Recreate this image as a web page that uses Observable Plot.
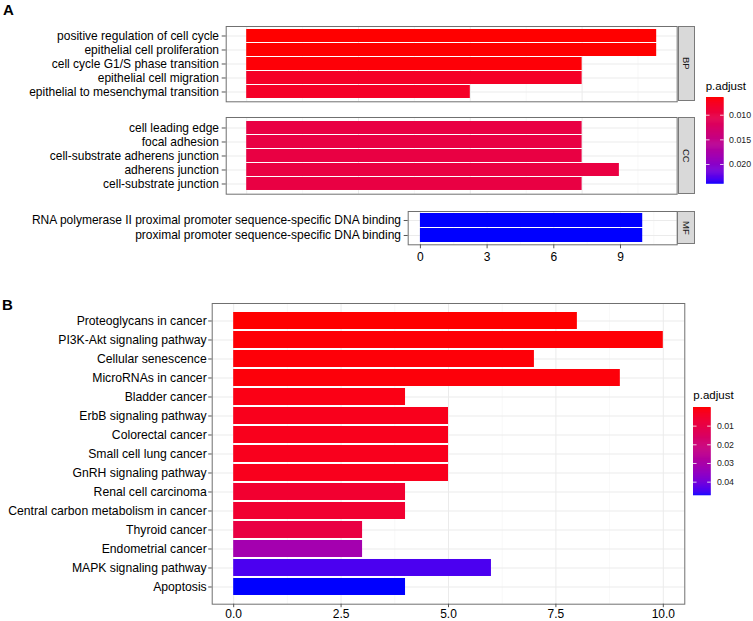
<!DOCTYPE html>
<html><head><meta charset="utf-8">
<script src="https://cdn.jsdelivr.net/npm/d3@7"></script>
<script src="https://cdn.jsdelivr.net/npm/@observablehq/plot@0.6"></script>
<style>
body{margin:0;background:#fff;}
#root{position:relative;width:753px;height:621px;overflow:hidden;font-family:"Liberation Sans",Arial,Helvetica,sans-serif;}
.abs{position:absolute;line-height:1;white-space:nowrap;}
.tag{font-weight:bold;font-size:15px;color:#000;}
.strip{position:absolute;background:#d9d9d9;border:1px solid #7a7a7a;box-sizing:border-box;display:flex;align-items:center;justify-content:center;}
.strip span{writing-mode:vertical-rl;font-size:9.5px;color:#1a1a1a;line-height:1;}
.ltitle{font-size:11.5px;color:#000;}
</style></head>
<body><div id="root"></div>
<script>
// ---------- Panel A data ----------
const bpTerms = ["positive regulation of cell cycle","epithelial cell proliferation","cell cycle G1/S phase transition","epithelial cell migration","epithelial to mesenchymal transition"];
const bpCounts = [11, 11, 9, 9, 6];
const bpPadj = [0.0064, 0.0064, 0.0066, 0.0080, 0.0080];

const ccTerms = ["cell leading edge","focal adhesion","cell-substrate adherens junction","adherens junction","cell-substrate junction"];
const ccCounts = [9, 9, 9, 10, 9];
const ccPadj = [0.0099, 0.0099, 0.0099, 0.0098, 0.0099];

const mfTerms = ["RNA polymerase II proximal promoter sequence-specific DNA binding","proximal promoter sequence-specific DNA binding"];
const mfCounts = [10, 10];
const mfPadj = [0.0240, 0.0240];

const aMajorTicks = [0, 3, 6, 9];
const aMinorTicks = [1.5, 4.5, 7.5, 10.5];
const aLegendTicks = [0.010, 0.015, 0.020];

// ---------- Panel B data ----------
const keggTerms = ["Proteoglycans in cancer","PI3K-Akt signaling pathway","Cellular senescence","MicroRNAs in cancer","Bladder cancer","ErbB signaling pathway","Colorectal cancer","Small cell lung cancer","GnRH signaling pathway","Renal cell carcinoma","Central carbon metabolism in cancer","Thyroid cancer","Endometrial cancer","MAPK signaling pathway","Apoptosis"];
const keggCounts = [8, 10, 7, 9, 4, 5, 5, 5, 5, 4, 4, 3, 3, 6, 4];
const keggPadj = [0.00002, 0.0004, 0.0006, 0.0008, 0.0018, 0.0026, 0.0027, 0.0028, 0.0028, 0.0058, 0.0060, 0.0093, 0.0315, 0.0445, 0.0473];

const bMajorTicks = [0, 2.5, 5, 7.5, 10];
const bMinorTicks = [1.25, 3.75, 6.25, 8.75];
const bLegendTicks = [0.01, 0.02, 0.03, 0.04];

// ---------- drawing ----------
const FONT = '"Liberation Sans", Arial, Helvetica, sans-serif';
const root = document.getElementById("root");
const aDomain = d3.extent([...bpPadj, ...ccPadj, ...mfPadj]);
const bDomain = d3.extent(keggPadj);

function colorOpts(domain){
  return {type:"linear", domain, range:["red","blue"], interpolate: d3.interpolateLab};
}

function panel(o){
  const data = o.terms.map((t,i)=>({term:t, count:o.counts[i], p:o.padj[i]}));
  const mt = 4, mb = o.xAxis ? 26 : 4;
  const marks = [
    Plot.gridX({ticks:o.minor, stroke:"#f3f3f3", strokeOpacity:1, strokeWidth:0.6}),
    Plot.gridX({ticks:o.major, stroke:"#ebebeb", strokeOpacity:1, strokeWidth:1}),
    Plot.gridY({stroke:"#ebebeb", strokeOpacity:1, strokeWidth:1}),
    Plot.barX(data, {x:"count", y:"term", fill:"p"}),
    Plot.frame({stroke:"#707070"}),
    Plot.axisY({tickSize:o.ts, tickPadding:o.tp, fontSize:o.fs, stroke:"#555", fill:"#000", label:null})
  ];
  if (o.xAxis) marks.push(Plot.axisX({ticks:o.major, tickFormat:o.fmt, tickSize:o.ts, tickPadding:o.tp, fontSize:12, stroke:"#555", fill:"#000", label:null}));
  const svg = Plot.plot({
    width: o.right + 3, height: (o.bottom - o.top) + mt + mb,
    marginLeft: o.left, marginRight: 3, marginTop: mt, marginBottom: mb,
    style: {fontFamily: FONT, fontSize:"12px", background:"transparent", overflow:"visible"},
    x: {domain:o.xDomain, axis: o.xAxis ? undefined : null},
    y: {domain:o.terms, paddingInner:0.1, paddingOuter:0.15},
    color: colorOpts(o.colorDomain),
    marks
  });
  svg.style.position = "absolute";
  svg.style.left = "0px";
  svg.style.top = (o.top - mt) + "px";
  root.append(svg);
}

function legend(o){
  const [lo, hi] = o.domain;
  const N = 90, step = (hi - lo) / N;
  const slices = d3.range(N).map(i => ({a: lo + step*i, b: Math.min(hi, lo + step*(i+1.6)), v: lo + step*(i+0.5)}));
  const svg = Plot.plot({
    width: o.w + 45, height: o.h, marginLeft:0, marginRight:45, marginTop:0, marginBottom:0,
    style: {fontFamily: FONT, background:"transparent", overflow:"visible"},
    x: {domain:[0,1], axis:null},
    y: {domain:[lo,hi], reverse:true, axis:null},
    color: colorOpts(o.domain),
    marks: [
      Plot.rect(slices, {x1:0, x2:1, y1:"a", y2:"b", fill:"v"}),
      Plot.ruleY(o.ticks, {x1:0, x2:0.2, stroke:"white", strokeWidth:0.8}),
      Plot.ruleY(o.ticks, {x1:0.8, x2:1, stroke:"white", strokeWidth:0.8}),
      Plot.text(o.ticks, {x:1, y:d=>d, text:d=>d3.format(o.fmt)(d), textAnchor:"start", dx:o.dx, fontSize:8.8, fill:"#222"})
    ]
  });
  svg.style.position = "absolute";
  svg.style.left = o.left + "px";
  svg.style.top = o.top + "px";
  root.append(svg);
  const t = document.createElement("div");
  t.className = "abs ltitle";
  t.textContent = "p.adjust";
  t.style.left = o.left + "px";
  t.style.top = o.titleTop + "px";
  root.append(t);
}

function strip(label, left, top, right, bottom){
  const d = document.createElement("div");
  d.className = "strip";
  d.style.left = left + "px"; d.style.top = top + "px";
  d.style.width = (right - left) + "px"; d.style.height = (bottom - top) + "px";
  const s = document.createElement("span"); s.textContent = label; d.append(s);
  root.append(d);
}

function tag(text, left, top){
  const d = document.createElement("div");
  d.className = "abs tag"; d.textContent = text;
  d.style.left = left + "px"; d.style.top = top + "px";
  root.append(d);
}

// Panel A
tag("A", 3, 2.3);
panel({terms:bpTerms, counts:bpCounts, padj:bpPadj, left:225.7, right:676.7, top:25.7, bottom:101,
  xDomain:[-0.55,11.55], major:aMajorTicks, minor:aMinorTicks, colorDomain:aDomain, fs:12, ts:4, tp:3.2});
panel({terms:ccTerms, counts:ccCounts, padj:ccPadj, left:225.7, right:676.7, top:117.3, bottom:194,
  xDomain:[-0.55,11.55], major:aMajorTicks, minor:aMinorTicks, colorDomain:aDomain, fs:12, ts:4, tp:3.2});
panel({terms:mfTerms, counts:mfCounts, padj:mfPadj, left:407.7, right:676.7, top:211, bottom:244.3,
  xDomain:[-0.55,11.55], major:aMajorTicks, minor:aMinorTicks, colorDomain:aDomain, fs:12, ts:4, tp:3.2,
  xAxis:true, fmt:d3.format("d")});
strip("BP", 677.5, 25.7, 695, 101);
strip("CC", 677.5, 117.3, 695, 194);
strip("MF", 676.5, 211, 695, 244.3);
legend({domain:aDomain, ticks:aLegendTicks, fmt:".3f", left:705.7, top:97.3, w:17.6, h:86.7, dx:5, titleTop:81.3});

// Panel B
tag("B", 2, 296.6);
panel({terms:keggTerms, counts:keggCounts, padj:keggPadj, left:211.7, right:684.3, top:303.3, bottom:604,
  xDomain:[-0.5,10.5], major:bMajorTicks, minor:bMinorTicks, colorDomain:bDomain, fs:12.2, ts:3.5, tp:2,
  xAxis:true, fmt:d3.format(".1f")});
legend({domain:bDomain, ticks:bLegendTicks, fmt:".2f", left:693.3, top:406.7, w:17.7, h:88.3, dx:5.7, titleTop:390.3});
</script>
</body></html>
